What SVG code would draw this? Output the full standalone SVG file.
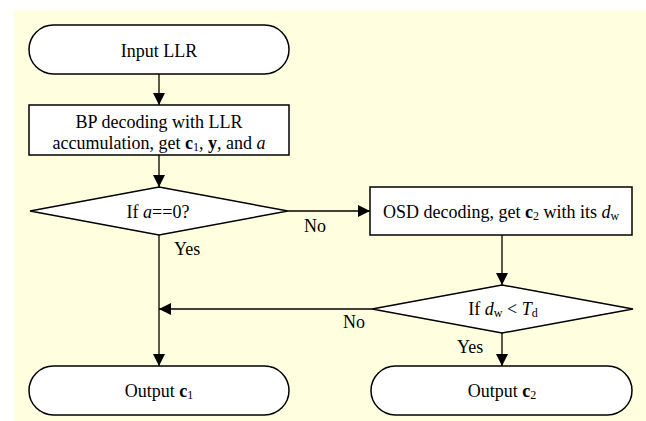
<svg xmlns="http://www.w3.org/2000/svg" width="646" height="421" viewBox="0 0 646 421">
<defs>
<marker id="ah" markerWidth="12" markerHeight="12" refX="12" refY="6" orient="auto" markerUnits="userSpaceOnUse">
<path d="M0,0 L12,6 L0,12 Z" fill="#000"/>
</marker>
<style>
.s{fill:#fff;stroke:#000;stroke-width:1.5}
.t{font-family:"Liberation Serif","Times New Roman",serif;font-size:18px;fill:#000}
.c{stroke:#000;stroke-width:1.3;fill:none}
.sub{font-size:12px}
</style>
</defs>
<rect x="14" y="10" width="632" height="411" fill="#FFFFDF"/>
<g id="input">
<rect class="s" x="29" y="25" width="260" height="49" rx="24.5"/>
<text class="t" x="159" y="57" text-anchor="middle">Input LLR</text>
</g>
<g id="bp">
<rect class="s" x="29" y="105" width="260" height="50"/>
<text class="t" x="159" y="128" text-anchor="middle">BP decoding with LLR</text>
<text class="t" x="159" y="149" text-anchor="middle">accumulation, get <tspan font-weight="bold">c</tspan><tspan class="sub" dy="2">1</tspan><tspan dy="-2">, </tspan><tspan font-weight="bold">y</tspan>, and <tspan font-style="italic">a</tspan></text>
</g>
<g id="dec1">
<polygon class="s" points="159,187 288,211 159,235 30,211"/>
<text class="t" x="158" y="218" text-anchor="middle">If <tspan font-style="italic">a</tspan>==0?</text>
</g>
<g id="osd">
<rect class="s" x="370" y="187" width="262" height="48"/>
<text class="t" x="501" y="218" text-anchor="middle">OSD decoding, get <tspan font-weight="bold">c</tspan><tspan class="sub" dy="2">2</tspan><tspan dy="-2"> with its </tspan><tspan font-style="italic">d</tspan><tspan class="sub" dy="2">w</tspan></text>
</g>
<g id="dec2">
<polygon class="s" points="502,285 633,309 502,333 372,309"/>
<text class="t" x="503" y="315" text-anchor="middle">If <tspan font-style="italic">d</tspan><tspan class="sub" dy="2">w</tspan><tspan dy="-2"> &lt; </tspan><tspan font-style="italic">T</tspan><tspan class="sub" dy="2">d</tspan></text>
</g>
<g id="out1">
<rect class="s" x="29" y="366" width="260" height="49" rx="24.5"/>
<text class="t" x="159" y="397" text-anchor="middle">Output <tspan font-weight="bold">c</tspan><tspan class="sub" dy="2">1</tspan></text>
</g>
<g id="out2">
<rect class="s" x="371" y="366" width="261" height="49" rx="24.5"/>
<text class="t" x="502" y="397" text-anchor="middle">Output <tspan font-weight="bold">c</tspan><tspan class="sub" dy="2">2</tspan></text>
</g>
<g id="connectors">
<line class="c" x1="159" y1="74" x2="159" y2="105" marker-end="url(#ah)"/>
<line class="c" x1="159" y1="155" x2="159" y2="187" marker-end="url(#ah)"/>
<line class="c" x1="288" y1="211" x2="370" y2="211" marker-end="url(#ah)"/>
<line class="c" x1="502" y1="235" x2="502" y2="285" marker-end="url(#ah)"/>
<line class="c" x1="159" y1="235" x2="159" y2="366" marker-end="url(#ah)"/>
<line class="c" x1="372" y1="309" x2="159" y2="309" marker-end="url(#ah)"/>
<line class="c" x1="502" y1="333" x2="502" y2="366" marker-end="url(#ah)"/>
<text class="t" x="304" y="232">No</text>
<text class="t" x="174" y="255">Yes</text>
<text class="t" x="343" y="328">No</text>
<text class="t" x="457" y="353">Yes</text>
</g>
</svg>
